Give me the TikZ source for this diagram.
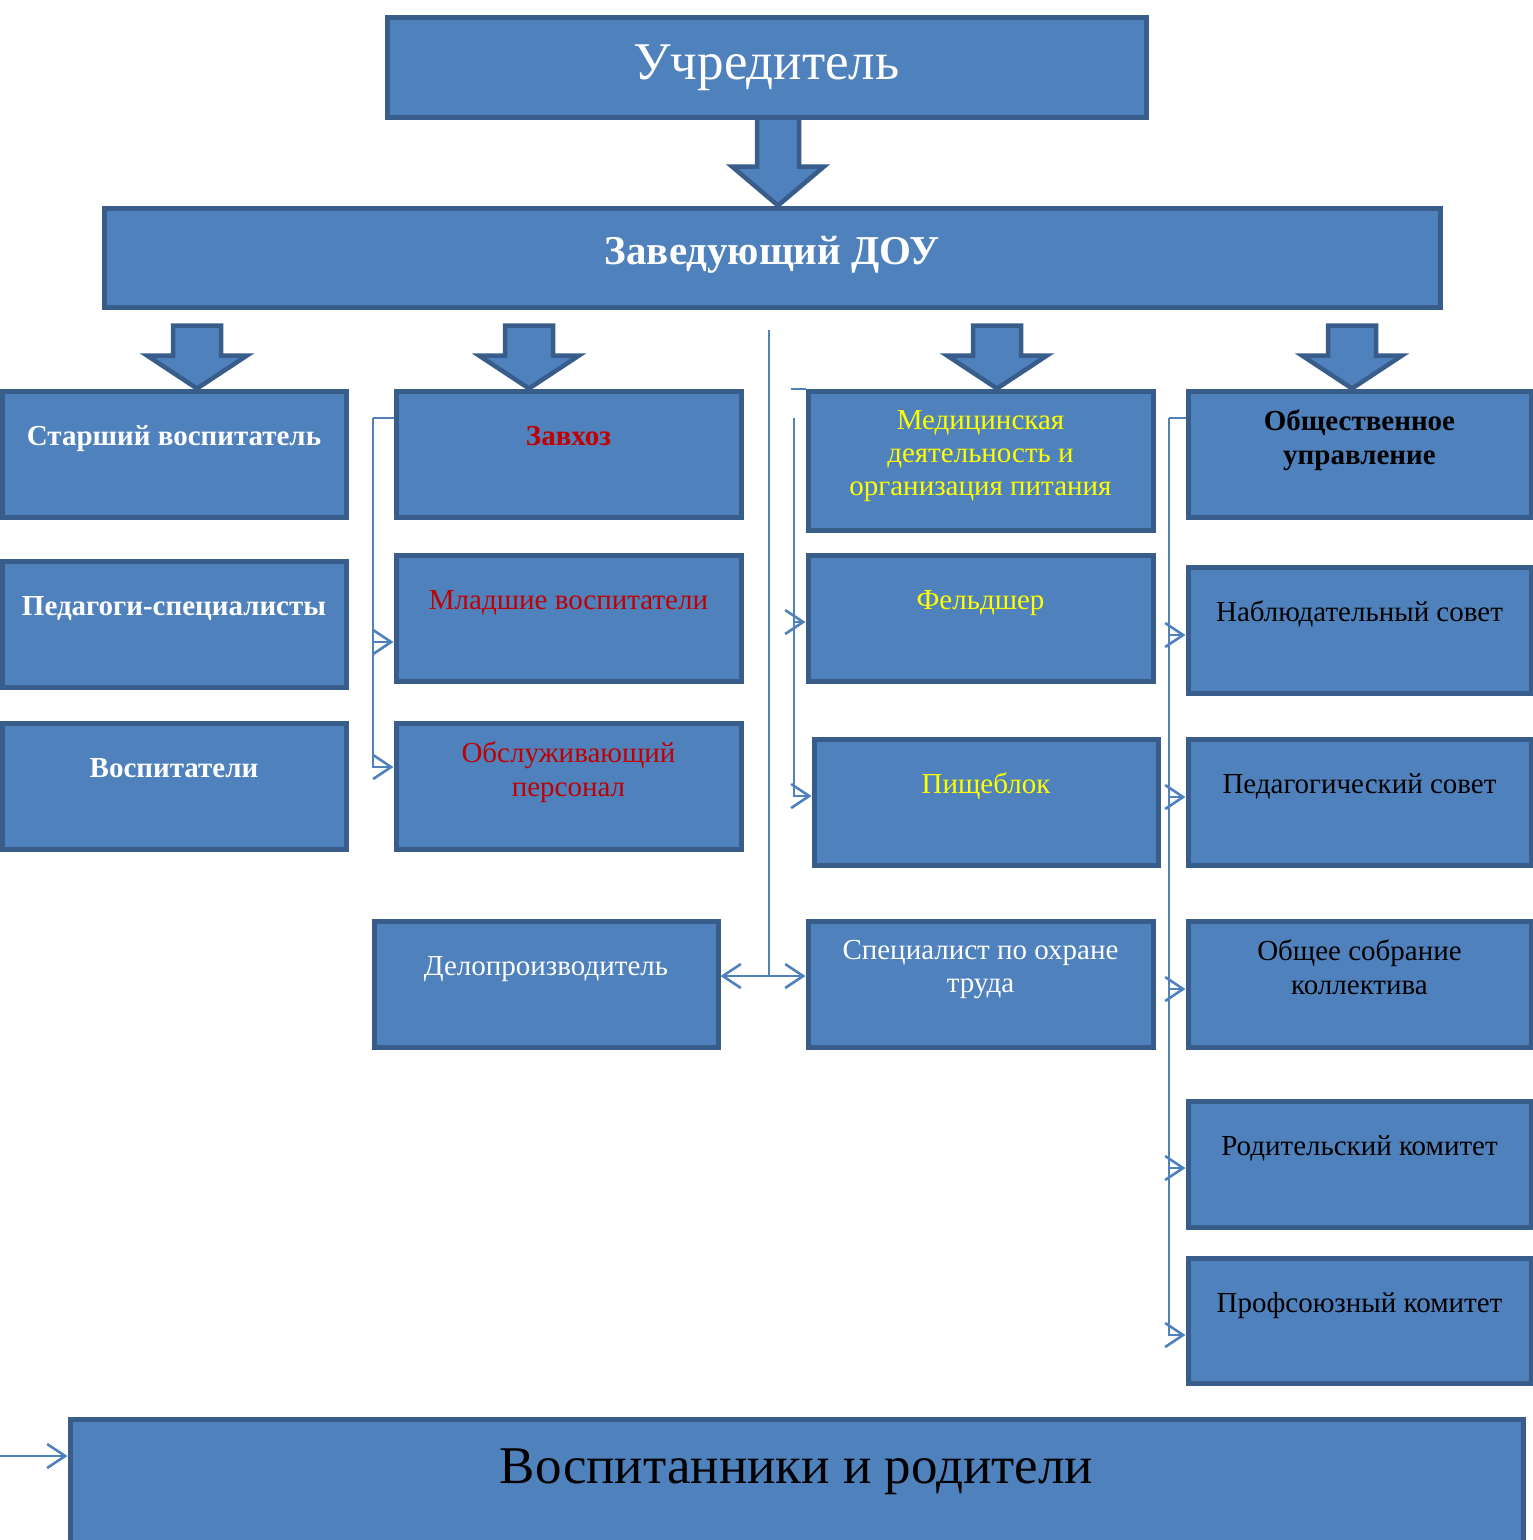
\documentclass[tikz,border=0pt]{standalone}
\usepackage{fontspec}
\setmainfont{Liberation Serif}
\usetikzlibrary{arrows.meta,calc}
\definecolor{bfill}{HTML}{4F81BD}
\definecolor{bline}{HTML}{385D8A}
\definecolor{cline}{HTML}{4F81BD}
\definecolor{tred}{HTML}{C00000}
\definecolor{tyel}{HTML}{FFFF00}
\tikzset{
 box/.style={draw=bline, fill=bfill, line width=5pt, inner sep=0pt, rectangle},
 ba/.style={draw=bline, fill=bfill, line width=4.5pt, line join=miter},
 conn/.style={draw=cline, line width=2pt},
 tipend/.style={-{Straight Barb[length=18pt,width=24pt,line width=2.6pt]}},
 dtipend/.style={{Straight Barb[length=18pt,width=24pt,line width=2.6pt]}-{Straight Barb[length=18pt,width=24pt,line width=2.6pt]}},
 txt/.style={inner sep=0pt, align=center, font=\fontsize{29}{33.4}\selectfont},
 txtb/.style={inner sep=0pt, align=center, font=\fontsize{29}{33.4}\selectfont\bfseries},
}
\newcommand\bx[6][]{\node[box,#1,minimum width={(#5-#3)*1pt},minimum height={(#6-#4)*1pt}] (#2) at ({(#3+#5)/2},{(#4+#6)/2}) {};}
\newcommand\barrow[5]{\draw[ba] (#1) -- ++({-#4},{-#2}) -- ++({#4-#5},0) -- ++(0,{-(#3-#2)}) -- ++({2*#5},0) -- ++(0,{#3-#2}) -- ++({#4-#5},0) -- cycle;}
\begin{document}
\begin{tikzpicture}[x=1pt,y=-1pt]
\useasboundingbox (0,0) rectangle (1533,1540);
\clip (0,0) rectangle (1533,1540);

% boxes
\bx{uch}{387}{17}{1146}{117}
\bx{zav}{104}{208}{1440}{307}
\bx{star}{2}{391}{346}{517}
\bx{ped}{2}{561}{346}{687}
\bx{vosp}{2}{723}{346}{849}
\bx{zavhoz}{396}{391}{741}{517}
\bx{mlad}{396}{555}{741}{681}
\bx{obsl}{396}{723}{741}{849}
\bx{delo}{374}{921}{718}{1047}
\bx{med}{808}{391}{1153}{530}
\bx{feld}{808}{555}{1153}{681}
\bx{pish}{814}{739}{1158}{865}
\bx{spec}{808}{921}{1153}{1047}
\bx{obsh}{1188}{391}{1531}{517}
\bx{nabl}{1188}{567}{1531}{693}
\bx{pedsov}{1188}{739}{1531}{865}
\bx{obsob}{1188}{921}{1531}{1047}
\bx{rodk}{1188}{1101}{1531}{1227}
\bx{prof}{1188}{1258}{1531}{1383}
\bx{vospr}{70}{1419}{1523}{1560}

% block arrows
\barrow{[xshift=6]zav.north}{39}{88}{46}{21}
\barrow{[xshift=23]star.north}{33}{63}{50}{24}
\barrow{[xshift=-39.5]zavhoz.north}{33}{63}{50}{24}
\barrow{[xshift=16.5]med.north}{33}{63}{50}{24}
\barrow{[xshift=-7.5]obsh.north}{33}{63}{50}{24}

% texts
\node[inner sep=0pt, text=white, font=\fontsize{53}{60}\selectfont, anchor=base] (uch-t) at ([yshift=-64.5]uch.north) {Учредитель};
\node[inner sep=0pt, text=white, font=\fontsize{41}{47}\selectfont\bfseries, anchor=base] (zav-t) at ([yshift=-58.5]zav.north) {Заведующий ДОУ};
\node[inner sep=0pt, text=black, font=\fontsize{53}{60}\selectfont, anchor=base] (vospr-t) at ([yshift=-66.5]vospr.north) {Воспитанники и родители};

\node[txtb, text=white, anchor=base] (star-t) at ([yshift=-57]star.north) {Старший воспитатель};
\node[txtb, text=white, anchor=base] (ped-t) at ([yshift=-57]ped.north) {Педагоги-специалисты};
\node[txtb, text=white, anchor=base] (vosp-t) at ([yshift=-57]vosp.north) {Воспитатели};

\node[txtb, text=tred, anchor=base] (zavhoz-t) at ([yshift=-57]zavhoz.north) {Завхоз};
\node[txt, text=tred, anchor=base] (mlad-t) at ([yshift=-57]mlad.north) {Младшие воспитатели};
\node[txt, text=tred, anchor=north] (obsl-t) at ([yshift=-21.5]obsl.north) {Обслуживающий\\персонал};
\node[txt, text=white, anchor=base] (delo-t) at ([yshift=-57]delo.north) {Делопроизводитель};

\node[txt, text=tyel, anchor=north] (med-t) at ([yshift=-21.5]med.north) {Медицинская\\деятельность и\\организация питания};
\node[txt, text=tyel, anchor=base] (feld-t) at ([yshift=-57]feld.north) {Фельдшер};
\node[txt, text=tyel, anchor=base] (pish-t) at ([yshift=-57]pish.north) {Пищеблок};
\node[txt, text=white, anchor=north] (spec-t) at ([yshift=-21.5]spec.north) {Специалист по охране\\труда};

\node[txtb, text=black, anchor=north] (obsh-t) at ([yshift=-21.5]obsh.north) {Общественное\\управление};
\node[txt, text=black, anchor=base] (nabl-t) at ([yshift=-57]nabl.north) {Наблюдательный совет};
\node[txt, text=black, anchor=base] (pedsov-t) at ([yshift=-57]pedsov.north) {Педагогический совет};
\node[txt, text=black, anchor=north] (obsob-t) at ([yshift=-21.5]obsob.north) {Общее собрание\\коллектива};
\node[txt, text=black, anchor=base] (rodk-t) at ([yshift=-57]rodk.north) {Родительский комитет};
\node[txt, text=black, anchor=base] (prof-t) at ([yshift=-57]prof.north) {Профсоюзный комитет};

% connectors: Завхоз group
\draw[conn] ([yshift=-29]zavhoz.north west) -- ++(-21,0) coordinate (zl);
\coordinate (mladin) at ([yshift=-24]mlad.west);
\coordinate (obslin) at ([yshift=19]obsl.west);
\draw[conn,tipend] (zl) |- (obslin);
\draw[conn,tipend] (zl |- mladin) -- (mladin);

% middle line
\coordinate (vtop) at (769,330);
\coordinate (dle) at ([yshift=8]delo.east);
\coordinate (spw) at ([yshift=8]spec.west);
\draw[conn,dtipend] (dle) -- (spw);
\draw[conn] (vtop) -- (vtop |- dle);

% medical group
\draw[conn] (med.north west) -- ++(-15,0);
\coordinate (mv) at ([xshift=-12,yshift=-29]med.north west);
\coordinate (feldin) at ([yshift=-4]feld.west);
\coordinate (pishin) at ([yshift=6]pish.west);
\draw[conn,tipend] (mv) |- (pishin);
\draw[conn,tipend] (mv |- feldin) -- (feldin);

% public governance group
\draw[conn] ([yshift=-29]obsh.north west) -- ++(-17,0) coordinate (rv);
\coordinate (nablin) at ([yshift=-5]nabl.west);
\coordinate (pedsin) at ([yshift=5]pedsov.west);
\coordinate (obsobin) at ([yshift=-5]obsob.west);
\coordinate (rodkin) at ([yshift=-4]rodk.west);
\coordinate (profin) at ([yshift=-14.5]prof.west);
\draw[conn,tipend] (rv) |- (profin);
\draw[conn,tipend] (rv |- nablin) -- (nablin);
\draw[conn,tipend] (rv |- pedsin) -- (pedsin);
\draw[conn,tipend] (rv |- obsobin) -- (obsobin);
\draw[conn,tipend] (rv |- rodkin) -- (rodkin);

% bottom
\coordinate (bl) at (0,1456);
\draw[conn,tipend] (bl) -- (bl -| vospr.west);
\end{tikzpicture}
\end{document}
